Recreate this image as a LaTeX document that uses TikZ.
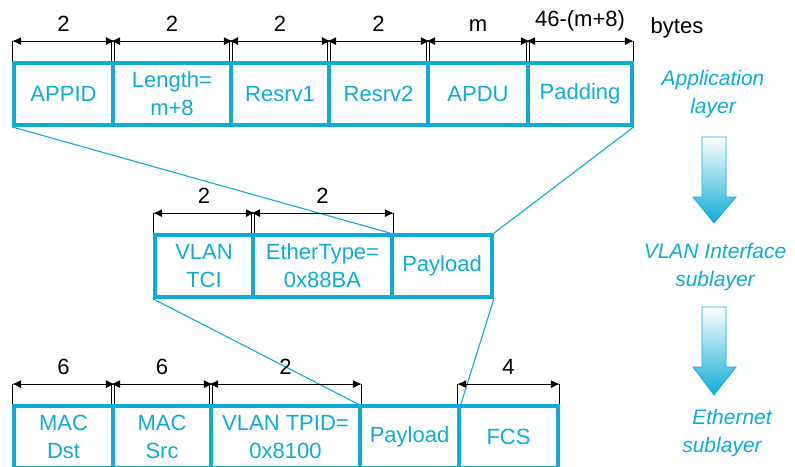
\documentclass[tikz,border=0pt]{standalone}
\usepackage{fontspec}
\setmainfont{Liberation Sans}
\usetikzlibrary{arrows.meta}
\definecolor{cy}{RGB}{16,172,214}
\begin{document}
\begin{tikzpicture}[x=1pt,y=-1pt,
  field/.style={draw=cy, line width=3.8pt, text=cy, minimum height=62pt, inner sep=0pt, align=center, font=\fontsize{22}{28}\selectfont},
  dim/.style={line width=1.1pt, {Latex[length=9pt,width=8pt]}-{Latex[length=9pt,width=8pt]}},
  tick/.style={line width=1.1pt},
  num/.style={font=\fontsize{22}{26}\selectfont, inner sep=0pt},
  layer/.style={text=cy, font=\fontsize{21}{28}\selectfont\itshape, align=center, inner sep=0pt},
  link/.style={draw=cy, line width=1.1pt},
  bigarrow/.style={top color=white, bottom color=cy, draw=cy, line width=0.8pt}]
\useasboundingbox (0,0) rectangle (795,466);
\clip (0,0) rectangle (795,466);

% Row 1
\node[field, minimum width=99pt]  (appid) at (63.5,94) {APPID};
\node[field, minimum width=118pt] (len)   at (172,94)  {Length=\\m+8};
\node[field, minimum width=98pt]  (res1)  at (280,94)  {Resrv1};
\node[field, minimum width=99pt]  (res2)  at (378.5,94) {Resrv2};
\node[field, minimum width=100pt] (apdu)  at (478,94)  {APDU};
\node[field, minimum width=104pt] (pad)   at (580,94)  {Padding};

% Row 2
\node[field, minimum width=98pt]  (tci)   at (204,266)   {VLAN\\TCI};
\node[field, minimum width=139pt] (etype) at (322.5,266) {EtherType=\\0x88BA};
\node[field, minimum width=100pt] (pay2)  at (442,266)   {Payload};

% Row 3
\node[field, minimum width=99pt]  (dst)   at (63.5,437)  {MAC\\Dst};
\node[field, minimum width=98pt]  (src)   at (162,437)   {MAC\\Src};
\node[field, minimum width=149pt] (tpid)  at (285.5,437) {VLAN TPID=\\0x8100};
\node[field, minimum width=99pt]  (pay3)  at (409.5,437) {Payload};
\node[field, minimum width=99pt]  (fcs)   at (508.5,437) {FCS};

% Links
\draw[link] (appid.south west) -- (pay2.north west);
\draw[link] (pad.south east) -- (pay2.north east);
\draw[link] (tci.south west) -- (pay3.north west);
\draw[link] (pay2.south east) -- (pay3.north east);

% Dimension lines
\foreach \n/\t in {appid/2,len/2,res1/2,res2/2,apdu/m,pad/46-(m+8),tci/2,etype/2,dst/6,src/6,tpid/2,fcs/4}{
  \draw[tick] (\n.north west) -- ([yshift=20pt]\n.north west);
  \draw[tick] (\n.north east) -- ([yshift=20pt]\n.north east);
  \draw[dim] ([yshift=20pt]\n.north west) -- node[num, above=9pt]{\t} ([yshift=20pt]\n.north east);
}
\node[num, anchor=base] (bytes) at (677,33) {bytes};

% Layer labels
\node[layer] (app) at (713,94) {Application\\layer};
\node[layer] (vlan) at (715,267) {VLAN Interface\\sublayer};
\node[layer] (eth) at (722,433) {\hspace*{20pt}Ethernet\\sublayer};

% Big arrows
\shade[bigarrow] (702,137) -- (726,137) -- (726,197) -- (736,197) -- (714,223) -- (693,197) -- (702,197) -- cycle;
\shade[bigarrow] (702,307) -- (726,307) -- (726,367) -- (736,367) -- (714,395) -- (693,367) -- (702,367) -- cycle;
\end{tikzpicture}
\end{document}
